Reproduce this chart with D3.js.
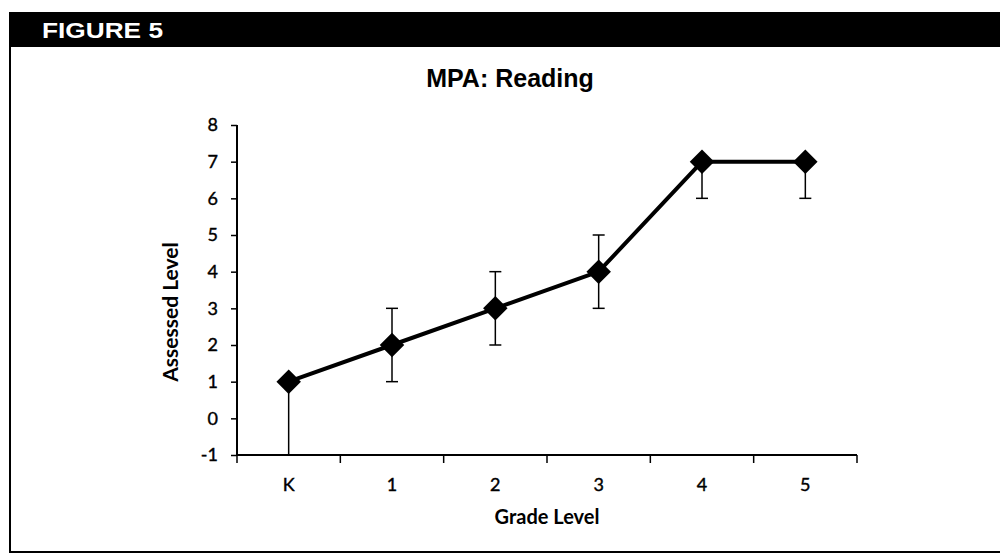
<!DOCTYPE html>
<html>
<head>
<meta charset="utf-8">
<script src="https://cdn.jsdelivr.net/npm/d3@7"></script>
<style>
  html, body { margin: 0; padding: 0; background: #fff; }
  svg { display: block; }
</style>
</head>
<body>
<svg id="chart" width="1000" height="555"></svg>
<script>
// ---- data ----
const categories = ["K", "1", "2", "3", "4", "5"];
const values     = [1, 2, 3, 4, 7, 7];
const errLow     = [-1, 1, 2, 3, 6, 6];
const errHigh    = [1, 3, 4, 5, 7, 7];
const yTicks     = [-1, 0, 1, 2, 3, 4, 5, 6, 7, 8];
const figureLabel = "FIGURE 5";
const chartTitle  = "MPA: Reading";
const xTitle      = "Grade Level";
const yTitle      = "Assessed Level";

const svg = d3.select("#chart");
const W = 1000, H = 555;

// frame
svg.append("rect").attr("x", 9).attr("y", 12).attr("width", W - 9).attr("height", 35).attr("fill", "#000");
svg.append("line").attr("x1", 10).attr("x2", 10).attr("y1", 46).attr("y2", 552)
   .attr("stroke", "#000").attr("stroke-width", 2);
svg.append("line").attr("x1", 9).attr("x2", W).attr("y1", 552).attr("y2", 552)
   .attr("stroke", "#000").attr("stroke-width", 2);
svg.append("text").attr("x", 42).attr("y", 38)
   .attr("fill", "#fff").attr("font-family", "Liberation Sans, Arial, sans-serif")
   .attr("font-weight", "bold").attr("font-size", 22)
   .attr("textLength", 121).attr("lengthAdjust", "spacingAndGlyphs")
   .text(figureLabel);

// title
svg.append("text").attr("x", 510).attr("y", 87).attr("text-anchor", "middle")
   .attr("font-family", "Liberation Sans, Arial, sans-serif")
   .attr("font-weight", "bold").attr("font-size", 25).attr("fill", "#000")
   .text(chartTitle);

// scales
const x = d3.scaleBand().domain(categories).range([237, 857]);
const y = d3.scaleLinear().domain([-1, 8]).range([455, 125]);

const font = "Lato, 'Open Sans', sans-serif";

// y axis
const yAxis = svg.append("g").attr("transform", "translate(237,0)")
  .call(d3.axisLeft(y).tickValues(yTicks).tickSize(6).tickPadding(13).tickFormat(d3.format("d")));
yAxis.select(".domain").attr("stroke", "#000").attr("stroke-width", 2).attr("d", "M0,125V455");
yAxis.selectAll(".tick line").attr("stroke", "#000").attr("stroke-width", 1.5);
yAxis.selectAll(".tick text").attr("font-family", font).attr("font-size", 18).attr("fill", "#000")
  .attr("stroke", "#000").attr("stroke-width", 0.4)
  .text(d => d < 0 ? "-" + Math.abs(d) : d);

// x axis
const xAxis = svg.append("g").attr("transform", "translate(0,455)")
  .call(d3.axisBottom(x).tickSize(0).tickPadding(23));
xAxis.select(".domain").attr("stroke", "#000").attr("stroke-width", 2).attr("d", "M237,0H857");
xAxis.selectAll(".tick text").attr("font-family", font).attr("font-size", 18).attr("fill", "#000")
  .attr("stroke", "#000").attr("stroke-width", 0.4);
// boundary tick marks between categories
const bounds = categories.map(c => x(c) + x.bandwidth());
xAxis.selectAll("line.bound").data(bounds).join("line").attr("class", "bound")
  .attr("x1", d => d).attr("x2", d => d).attr("y1", 0).attr("y2", 8)
  .attr("stroke", "#000").attr("stroke-width", 1.5);
xAxis.append("line").attr("x1", 237).attr("x2", 237).attr("y1", 0).attr("y2", 8)
  .attr("stroke", "#000").attr("stroke-width", 1.5);

// axis titles
svg.append("text").attr("x", 547).attr("y", 524).attr("text-anchor", "middle")
   .attr("font-family", font).attr("font-weight", "bold").attr("font-size", 20).attr("fill", "#000")
   .text(xTitle);
svg.append("text").attr("transform", "translate(178,312) rotate(-90)").attr("text-anchor", "middle")
   .attr("font-family", font).attr("font-weight", "bold").attr("font-size", 21).attr("fill", "#000")
   .text(yTitle);

const data = categories.map((c, i) => ({ c, v: values[i], lo: errLow[i], hi: errHigh[i] }));
const cx = d => x(d.c) + x.bandwidth() / 2;

// error bars
const eb = svg.append("g").attr("stroke", "#000").attr("stroke-width", 1.5);
eb.selectAll("line.bar").data(data).join("line").attr("class", "bar")
  .attr("x1", cx).attr("x2", cx).attr("y1", d => y(d.lo)).attr("y2", d => y(d.hi));
eb.selectAll("line.capLo").data(data).join("line").attr("class", "capLo")
  .attr("x1", d => cx(d) - 6).attr("x2", d => cx(d) + 6).attr("y1", d => y(d.lo)).attr("y2", d => y(d.lo));
eb.selectAll("line.capHi").data(data).join("line").attr("class", "capHi")
  .attr("x1", d => cx(d) - 6).attr("x2", d => cx(d) + 6).attr("y1", d => y(d.hi)).attr("y2", d => y(d.hi));

// line
svg.append("path").datum(data)
  .attr("fill", "none").attr("stroke", "#000").attr("stroke-width", 4).attr("stroke-linejoin", "round")
  .attr("d", d3.line().x(cx).y(d => y(d.v)));

// markers
const sym = d3.symbol().type(d3.symbolSquare).size(300);
svg.selectAll("path.mk").data(data).join("path").attr("class", "mk")
  .attr("transform", d => `translate(${cx(d)},${y(d.v)}) rotate(45)`)
  .attr("d", sym).attr("fill", "#000");
</script>
</body>
</html>
